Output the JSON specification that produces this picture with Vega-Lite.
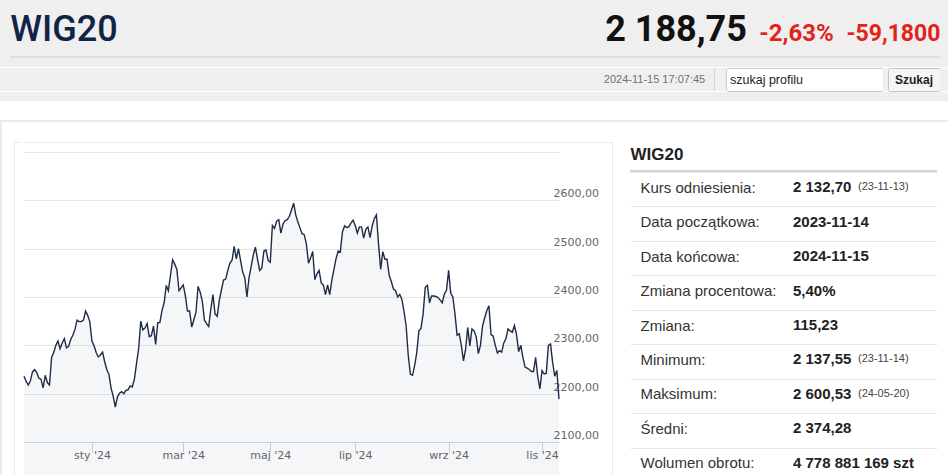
{
  "$schema": "https://vega.github.io/schema/vega-lite/v6.json",
  "background": "#ffffff",
  "padding": 0,
  "autosize": {"type": "pad"},
  "spacing": 0,
  "config": {"view": {"stroke": null}, "font": "Liberation Sans"},
  "datasets": {
    "blank": [{}],
    "quote": [{"name": "WIG20", "last": "2 188,75", "pct": "-2,63%", "chg": "-59,1800", "time": "2024-11-15 17:07:45", "query": "szukaj profilu", "button": "Szukaj"}],
    "stats": [
      {"label": "Kurs odniesienia:", "value": "2 132,70", "date": "(23-11-13)"},
      {"label": "Data początkowa:", "value": "2023-11-14", "date": ""},
      {"label": "Data końcowa:", "value": "2024-11-15", "date": ""},
      {"label": "Zmiana procentowa:", "value": "5,40%", "date": ""},
      {"label": "Zmiana:", "value": "115,23", "date": ""},
      {"label": "Minimum:", "value": "2 137,55", "date": "(23-11-14)"},
      {"label": "Maksimum:", "value": "2 600,53", "date": "(24-05-20)"},
      {"label": "Średni:", "value": "2 374,28", "date": ""},
      {"label": "Wolumen obrotu:", "value": "4 778 881 169 szt", "date": ""}
    ],
    "wig20": [
      {"d": "2023-11-14", "v": 2236}, {"d": "2023-11-15", "v": 2226}, {"d": "2023-11-16", "v": 2218}, {"d": "2023-11-17", "v": 2226},
      {"d": "2023-11-20", "v": 2245}, {"d": "2023-11-21", "v": 2250}, {"d": "2023-11-22", "v": 2244}, {"d": "2023-11-23", "v": 2232},
      {"d": "2023-11-24", "v": 2230}, {"d": "2023-11-27", "v": 2212}, {"d": "2023-11-28", "v": 2238}, {"d": "2023-11-29", "v": 2223},
      {"d": "2023-11-30", "v": 2218}, {"d": "2023-12-01", "v": 2275}, {"d": "2023-12-04", "v": 2285}, {"d": "2023-12-05", "v": 2300},
      {"d": "2023-12-06", "v": 2309}, {"d": "2023-12-07", "v": 2293}, {"d": "2023-12-08", "v": 2305}, {"d": "2023-12-11", "v": 2314},
      {"d": "2023-12-12", "v": 2295}, {"d": "2023-12-13", "v": 2298}, {"d": "2023-12-14", "v": 2312}, {"d": "2023-12-15", "v": 2321},
      {"d": "2023-12-18", "v": 2333}, {"d": "2023-12-19", "v": 2352}, {"d": "2023-12-20", "v": 2349}, {"d": "2023-12-21", "v": 2349},
      {"d": "2023-12-22", "v": 2352}, {"d": "2023-12-27", "v": 2371}, {"d": "2023-12-28", "v": 2362}, {"d": "2023-12-29", "v": 2349},
      {"d": "2024-01-02", "v": 2309}, {"d": "2024-01-03", "v": 2299}, {"d": "2024-01-04", "v": 2285}, {"d": "2024-01-05", "v": 2276},
      {"d": "2024-01-08", "v": 2280}, {"d": "2024-01-09", "v": 2286}, {"d": "2024-01-10", "v": 2266}, {"d": "2024-01-11", "v": 2250},
      {"d": "2024-01-12", "v": 2240}, {"d": "2024-01-15", "v": 2212}, {"d": "2024-01-16", "v": 2195}, {"d": "2024-01-17", "v": 2172},
      {"d": "2024-01-18", "v": 2193}, {"d": "2024-01-19", "v": 2201}, {"d": "2024-01-22", "v": 2204}, {"d": "2024-01-23", "v": 2200},
      {"d": "2024-01-24", "v": 2207}, {"d": "2024-01-25", "v": 2208}, {"d": "2024-01-26", "v": 2216}, {"d": "2024-01-29", "v": 2214},
      {"d": "2024-01-30", "v": 2230}, {"d": "2024-01-31", "v": 2262}, {"d": "2024-02-01", "v": 2293}, {"d": "2024-02-02", "v": 2350},
      {"d": "2024-02-05", "v": 2332}, {"d": "2024-02-06", "v": 2336}, {"d": "2024-02-07", "v": 2345}, {"d": "2024-02-08", "v": 2318},
      {"d": "2024-02-09", "v": 2320}, {"d": "2024-02-12", "v": 2340}, {"d": "2024-02-13", "v": 2302}, {"d": "2024-02-14", "v": 2347},
      {"d": "2024-02-15", "v": 2347}, {"d": "2024-02-16", "v": 2372}, {"d": "2024-02-19", "v": 2388}, {"d": "2024-02-20", "v": 2424},
      {"d": "2024-02-21", "v": 2413}, {"d": "2024-02-22", "v": 2445}, {"d": "2024-02-23", "v": 2477}, {"d": "2024-02-26", "v": 2468},
      {"d": "2024-02-27", "v": 2457}, {"d": "2024-02-28", "v": 2413}, {"d": "2024-02-29", "v": 2419}, {"d": "2024-03-01", "v": 2425},
      {"d": "2024-03-04", "v": 2403}, {"d": "2024-03-05", "v": 2371}, {"d": "2024-03-06", "v": 2371}, {"d": "2024-03-07", "v": 2338},
      {"d": "2024-03-08", "v": 2353}, {"d": "2024-03-11", "v": 2368}, {"d": "2024-03-12", "v": 2422}, {"d": "2024-03-13", "v": 2410},
      {"d": "2024-03-14", "v": 2391}, {"d": "2024-03-15", "v": 2352}, {"d": "2024-03-18", "v": 2345}, {"d": "2024-03-19", "v": 2339},
      {"d": "2024-03-20", "v": 2375}, {"d": "2024-03-21", "v": 2405}, {"d": "2024-03-22", "v": 2365}, {"d": "2024-03-25", "v": 2360},
      {"d": "2024-03-26", "v": 2393}, {"d": "2024-03-27", "v": 2415}, {"d": "2024-03-28", "v": 2435}, {"d": "2024-04-02", "v": 2437},
      {"d": "2024-04-03", "v": 2455}, {"d": "2024-04-04", "v": 2470}, {"d": "2024-04-05", "v": 2476}, {"d": "2024-04-08", "v": 2505},
      {"d": "2024-04-09", "v": 2479}, {"d": "2024-04-10", "v": 2500}, {"d": "2024-04-11", "v": 2476}, {"d": "2024-04-12", "v": 2452},
      {"d": "2024-04-15", "v": 2440}, {"d": "2024-04-16", "v": 2400}, {"d": "2024-04-17", "v": 2440}, {"d": "2024-04-18", "v": 2463},
      {"d": "2024-04-19", "v": 2487}, {"d": "2024-04-22", "v": 2503}, {"d": "2024-04-23", "v": 2478}, {"d": "2024-04-24", "v": 2455},
      {"d": "2024-04-25", "v": 2460}, {"d": "2024-04-26", "v": 2495}, {"d": "2024-04-29", "v": 2497}, {"d": "2024-04-30", "v": 2476},
      {"d": "2024-05-02", "v": 2472}, {"d": "2024-05-06", "v": 2548}, {"d": "2024-05-07", "v": 2542}, {"d": "2024-05-08", "v": 2557},
      {"d": "2024-05-09", "v": 2560}, {"d": "2024-05-10", "v": 2532}, {"d": "2024-05-13", "v": 2551}, {"d": "2024-05-14", "v": 2558},
      {"d": "2024-05-15", "v": 2560}, {"d": "2024-05-16", "v": 2567}, {"d": "2024-05-17", "v": 2580}, {"d": "2024-05-20", "v": 2594},
      {"d": "2024-05-21", "v": 2570}, {"d": "2024-05-22", "v": 2555}, {"d": "2024-05-23", "v": 2543}, {"d": "2024-05-24", "v": 2531},
      {"d": "2024-05-27", "v": 2529}, {"d": "2024-05-28", "v": 2510}, {"d": "2024-05-29", "v": 2470}, {"d": "2024-05-31", "v": 2481},
      {"d": "2024-06-03", "v": 2494}, {"d": "2024-06-04", "v": 2436}, {"d": "2024-06-05", "v": 2448}, {"d": "2024-06-06", "v": 2455},
      {"d": "2024-06-07", "v": 2429}, {"d": "2024-06-10", "v": 2425}, {"d": "2024-06-11", "v": 2405}, {"d": "2024-06-12", "v": 2425},
      {"d": "2024-06-13", "v": 2405}, {"d": "2024-06-14", "v": 2435}, {"d": "2024-06-17", "v": 2457}, {"d": "2024-06-18", "v": 2480},
      {"d": "2024-06-19", "v": 2495}, {"d": "2024-06-20", "v": 2493}, {"d": "2024-06-21", "v": 2535}, {"d": "2024-06-24", "v": 2547},
      {"d": "2024-06-25", "v": 2544}, {"d": "2024-06-26", "v": 2545}, {"d": "2024-06-27", "v": 2553}, {"d": "2024-06-28", "v": 2559},
      {"d": "2024-07-01", "v": 2548}, {"d": "2024-07-02", "v": 2532}, {"d": "2024-07-03", "v": 2545}, {"d": "2024-07-04", "v": 2545},
      {"d": "2024-07-05", "v": 2522}, {"d": "2024-07-08", "v": 2540}, {"d": "2024-07-09", "v": 2545}, {"d": "2024-07-10", "v": 2523},
      {"d": "2024-07-11", "v": 2547}, {"d": "2024-07-12", "v": 2562}, {"d": "2024-07-15", "v": 2570}, {"d": "2024-07-16", "v": 2510},
      {"d": "2024-07-17", "v": 2457}, {"d": "2024-07-18", "v": 2494}, {"d": "2024-07-19", "v": 2478}, {"d": "2024-07-22", "v": 2478},
      {"d": "2024-07-23", "v": 2445}, {"d": "2024-07-24", "v": 2432}, {"d": "2024-07-25", "v": 2417}, {"d": "2024-07-26", "v": 2413},
      {"d": "2024-07-29", "v": 2400}, {"d": "2024-07-30", "v": 2405}, {"d": "2024-07-31", "v": 2395}, {"d": "2024-08-01", "v": 2370},
      {"d": "2024-08-02", "v": 2340}, {"d": "2024-08-05", "v": 2279}, {"d": "2024-08-06", "v": 2240}, {"d": "2024-08-07", "v": 2238},
      {"d": "2024-08-08", "v": 2258}, {"d": "2024-08-09", "v": 2285}, {"d": "2024-08-12", "v": 2330}, {"d": "2024-08-13", "v": 2335},
      {"d": "2024-08-14", "v": 2365}, {"d": "2024-08-16", "v": 2420}, {"d": "2024-08-19", "v": 2424}, {"d": "2024-08-20", "v": 2388},
      {"d": "2024-08-21", "v": 2402}, {"d": "2024-08-22", "v": 2402}, {"d": "2024-08-23", "v": 2401}, {"d": "2024-08-26", "v": 2399},
      {"d": "2024-08-27", "v": 2394}, {"d": "2024-08-28", "v": 2388}, {"d": "2024-08-29", "v": 2406}, {"d": "2024-08-30", "v": 2414},
      {"d": "2024-09-02", "v": 2455}, {"d": "2024-09-03", "v": 2408}, {"d": "2024-09-04", "v": 2400}, {"d": "2024-09-05", "v": 2365},
      {"d": "2024-09-06", "v": 2321}, {"d": "2024-09-09", "v": 2324}, {"d": "2024-09-10", "v": 2300}, {"d": "2024-09-11", "v": 2268},
      {"d": "2024-09-12", "v": 2292}, {"d": "2024-09-13", "v": 2337}, {"d": "2024-09-16", "v": 2299}, {"d": "2024-09-17", "v": 2334},
      {"d": "2024-09-18", "v": 2330}, {"d": "2024-09-19", "v": 2318}, {"d": "2024-09-20", "v": 2283}, {"d": "2024-09-23", "v": 2300},
      {"d": "2024-09-24", "v": 2340}, {"d": "2024-09-25", "v": 2357}, {"d": "2024-09-26", "v": 2372}, {"d": "2024-09-27", "v": 2382},
      {"d": "2024-09-30", "v": 2322}, {"d": "2024-10-01", "v": 2319}, {"d": "2024-10-02", "v": 2300}, {"d": "2024-10-03", "v": 2284},
      {"d": "2024-10-04", "v": 2289}, {"d": "2024-10-07", "v": 2286}, {"d": "2024-10-08", "v": 2305}, {"d": "2024-10-09", "v": 2314},
      {"d": "2024-10-10", "v": 2334}, {"d": "2024-10-11", "v": 2330}, {"d": "2024-10-14", "v": 2327}, {"d": "2024-10-15", "v": 2341},
      {"d": "2024-10-16", "v": 2322}, {"d": "2024-10-17", "v": 2287}, {"d": "2024-10-18", "v": 2300}, {"d": "2024-10-21", "v": 2275},
      {"d": "2024-10-22", "v": 2255}, {"d": "2024-10-23", "v": 2253}, {"d": "2024-10-24", "v": 2250}, {"d": "2024-10-25", "v": 2246},
      {"d": "2024-10-28", "v": 2246}, {"d": "2024-10-29", "v": 2275}, {"d": "2024-10-30", "v": 2235}, {"d": "2024-10-31", "v": 2210},
      {"d": "2024-11-04", "v": 2248}, {"d": "2024-11-05", "v": 2241}, {"d": "2024-11-06", "v": 2242}, {"d": "2024-11-07", "v": 2300},
      {"d": "2024-11-08", "v": 2303}, {"d": "2024-11-12", "v": 2265}, {"d": "2024-11-13", "v": 2236}, {"d": "2024-11-14", "v": 2247.93},
      {"d": "2024-11-15", "v": 2188.75}
    ]
  },
  "vconcat": [
    {
      "hconcat": [
        {"data": {"name": "quote"}, "width": 128, "height": 56, "view": {"fill": "#efefef"},
         "mark": {"type": "text", "font": "Roboto", "fontSize": 36, "fontWeight": 500, "color": "#0f2543", "dy": 2},
         "encoding": {"text": {"field": "name"}}},
        {"data": {"name": "blank"}, "width": 478, "height": 56, "mark": {"type": "rect", "color": "#efefef"}},
        {"data": {"name": "quote"}, "width": 140, "height": 56, "view": {"fill": "#efefef"},
         "mark": {"type": "text", "font": "Roboto", "fontSize": 36, "fontWeight": "bold", "color": "#111111", "dy": 2},
         "encoding": {"text": {"field": "last"}}},
        {"data": {"name": "quote"}, "width": 101, "height": 56, "view": {"fill": "#efefef"},
         "mark": {"type": "text", "font": "Roboto", "fontSize": 24, "fontWeight": "bold", "color": "#e2231a", "dy": 6},
         "encoding": {"text": {"field": "pct"}}},
        {"data": {"name": "quote"}, "width": 93, "height": 56, "view": {"fill": "#efefef"},
         "mark": {"type": "text", "font": "Roboto", "fontSize": 23, "fontWeight": "bold", "color": "#e2231a", "dy": 6},
         "encoding": {"text": {"field": "chg"}}},
        {"data": {"name": "blank"}, "width": 8, "height": 56, "mark": {"type": "rect", "color": "#efefef"}}
      ],
      "spacing": 0, "bounds": "flush"
    },
    {
      "hconcat": [
        {"data": {"name": "blank"}, "width": 10, "height": 2, "mark": {"type": "rect", "color": "#efefef"}},
        {"data": {"name": "blank"}, "width": 930, "height": 2, "mark": {"type": "rect", "color": "#dedede"}},
        {"data": {"name": "blank"}, "width": 8, "height": 2, "mark": {"type": "rect", "color": "#efefef"}}
      ],
      "spacing": 0, "bounds": "flush"
    },
    {"data": {"name": "blank"}, "width": 948, "height": 9, "mark": {"type": "rect", "color": "#efefef"}},
    {
      "hconcat": [
        {"data": {"name": "blank"}, "width": 600, "height": 23, "mark": {"type": "rect", "color": "#efefef"}},
        {"data": {"name": "quote"}, "width": 109, "height": 23, "view": {"fill": "#efefef"},
         "mark": {"type": "text", "font": "Liberation Sans", "fontSize": 11, "color": "#707070"},
         "encoding": {"text": {"field": "time"}}},
        {"data": {"name": "blank"}, "width": 5, "height": 23, "mark": {"type": "rect", "color": "#efefef"}},
        {"data": {"name": "blank"}, "width": 1, "height": 23, "mark": {"type": "rect", "color": "#d6d6d6"}},
        {"data": {"name": "blank"}, "width": 11, "height": 23, "mark": {"type": "rect", "color": "#efefef"}},
        {"data": {"name": "quote"}, "width": 157, "height": 23, "view": {"fill": "#ffffff", "stroke": "#c8c8c8", "cornerRadius": 2},
         "mark": {"type": "text", "align": "left", "dx": -74.5, "font": "Liberation Sans", "fontSize": 12.5, "color": "#222222"},
         "encoding": {"text": {"field": "query"}}},
        {"data": {"name": "blank"}, "width": 5, "height": 23, "mark": {"type": "rect", "color": "#efefef"}},
        {"data": {"name": "quote"}, "width": 52, "height": 23, "view": {"fill": "#f5f5f5", "stroke": "#c4c4c4", "cornerRadius": 2},
         "mark": {"type": "text", "font": "Liberation Sans", "fontSize": 12, "fontWeight": "bold", "color": "#222222"},
         "encoding": {"text": {"field": "button"}}},
        {"data": {"name": "blank"}, "width": 8, "height": 23, "mark": {"type": "rect", "color": "#efefef"}}
      ],
      "spacing": 0, "bounds": "flush"
    },
    {"data": {"name": "blank"}, "width": 948, "height": 9, "mark": {"type": "rect", "color": "#efefef"}},
    {"data": {"name": "blank"}, "width": 948, "height": 19, "mark": {"type": "rect", "opacity": 0}},
    {"data": {"name": "blank"}, "width": 948, "height": 2, "mark": {"type": "rect", "color": "#ebebeb"}},
    {
      "hconcat": [
        {"data": {"name": "blank"}, "width": 2, "height": 354, "mark": {"type": "rect", "color": "#ebebeb"}},
        {"data": {"name": "blank"}, "width": 12, "height": 354, "mark": {"type": "rect", "opacity": 0}},
        {
          "vconcat": [
            {"data": {"name": "blank"}, "width": 1, "height": 20, "mark": {"type": "rect", "opacity": 0}},
            {"data": {"name": "blank"}, "width": 1, "height": 334, "mark": {"type": "rect", "color": "#ebebeb"}}
          ],
          "spacing": 0, "bounds": "flush"
        },
        {
          "vconcat": [
            {"data": {"name": "blank"}, "width": 6, "height": 20, "mark": {"type": "rect", "opacity": 0}},
            {"data": {"name": "blank"}, "width": 6, "height": 1, "mark": {"type": "rect", "color": "#ebebeb"}}
          ],
          "spacing": 0, "bounds": "flush"
        },
        {
          "vconcat": [
            {"data": {"name": "blank"}, "width": 576, "height": 20, "mark": {"type": "rect", "opacity": 0}},
            {"data": {"name": "blank"}, "width": 576, "height": 1, "mark": {"type": "rect", "color": "#ebebeb"}},
            {"data": {"name": "blank"}, "width": 576, "height": 9, "mark": {"type": "rect", "opacity": 0}},
            {
              "data": {"name": "wig20"},
              "width": 535,
              "height": 290,
              "encoding": {
                "x": {
                  "field": "d", "type": "ordinal",
                  "scale": {"type": "point", "padding": 0},
                  "axis": {
                    "title": null, "grid": false, "labelAngle": 0,
                    "values": ["2024-01-02", "2024-03-01", "2024-05-02", "2024-07-01", "2024-09-02", "2024-11-04"],
                    "labelExpr": "['sty','lut','mar','kwi','maj','cze','lip','sie','wrz','paź','lis','gru'][toNumber(substring(datum.value, 5, 7)) - 1] + \" '24\"",
                    "domainColor": "#ccd6eb", "tickColor": "#ccd6eb", "tickSize": 10,
                    "labelPadding": -3, "labelFont": "DejaVu Sans", "labelFontSize": 11, "labelColor": "#666666"
                  }
                },
                "y": {
                  "field": "v", "type": "quantitative",
                  "scale": {"domain": [2100, 2700], "zero": false, "nice": false},
                  "axis": {
                    "title": null, "orient": "right",
                    "values": [2100, 2200, 2300, 2400, 2500, 2600, 2700],
                    "grid": true, "gridColor": "#e6e6e6", "domain": false, "ticks": false, "tickSize": 0,
                    "labelAlign": "left", "labelBaseline": "alphabetic", "labelPadding": -6, "labelOffset": -3.5,
                    "labelExpr": "datum.value >= 2700 ? '' : replace(format(datum.value, '.2f'), '.', ',')",
                    "labelFont": "DejaVu Sans", "labelFontSize": 11, "labelColor": "#666666"
                  }
                }
              },
              "layer": [
                {"mark": {"type": "area", "color": "#34496e", "opacity": 0.05}},
                {"mark": {"type": "line", "color": "#1e2c47", "strokeWidth": 1.4}}
              ]
            },
            {"data": {"name": "blank"}, "width": 576, "height": 34, "mark": {"type": "rect", "opacity": 0}}
          ],
          "spacing": 0, "bounds": "flush"
        },
        {
          "vconcat": [
            {"data": {"name": "blank"}, "width": 12, "height": 20, "mark": {"type": "rect", "opacity": 0}},
            {"data": {"name": "blank"}, "width": 12, "height": 1, "mark": {"type": "rect", "color": "#ebebeb"}}
          ],
          "spacing": 0, "bounds": "flush"
        },
        {
          "vconcat": [
            {"data": {"name": "blank"}, "width": 1, "height": 20, "mark": {"type": "rect", "opacity": 0}},
            {"data": {"name": "blank"}, "width": 1, "height": 334, "mark": {"type": "rect", "color": "#ebebeb"}}
          ],
          "spacing": 0, "bounds": "flush"
        },
        {"data": {"name": "blank"}, "width": 17, "height": 354, "mark": {"type": "rect", "opacity": 0}},
        {
          "vconcat": [
            {"data": {"name": "blank"}, "width": 307, "height": 20, "mark": {"type": "rect", "opacity": 0}},
            {"data": {"name": "quote"}, "width": 54, "height": 28,
             "mark": {"type": "text", "font": "Liberation Sans", "fontSize": 17, "fontWeight": "bold", "color": "#222222", "dy": -1},
             "encoding": {"text": {"field": "name"}}},
            {"data": {"name": "blank"}, "width": 307, "height": 2, "mark": {"type": "rect", "color": "#d4d4d4"}},
            {
              "data": {"name": "stats"},
              "width": 307,
              "height": 310,
              "encoding": {
                "y": {
                  "field": "label", "type": "nominal", "sort": null,
                  "scale": {"paddingInner": 0, "paddingOuter": 0},
                  "axis": {
                    "title": null, "orient": "left", "domain": false, "ticks": false, "tickSize": 0,
                    "grid": true, "tickBand": "extent", "gridColor": "#e8e8e8",
                    "labelAlign": "left", "labelBaseline": "middle", "labelPadding": -10, "labelOffset": -2,
                    "labelFont": "Liberation Sans", "labelFontSize": 15, "labelColor": "#333333", "labelLimit": 300
                  }
                }
              },
              "layer": [
                {"mark": {"type": "text", "align": "left", "dx": 9.5, "dy": -2, "font": "Liberation Sans", "fontSize": 15, "fontWeight": "bold", "color": "#222222"},
                 "encoding": {"text": {"field": "value"}}},
                {"mark": {"type": "text", "align": "left", "dx": 74.5, "dy": -2, "font": "Liberation Sans", "fontSize": 11, "color": "#444444"},
                 "encoding": {"text": {"field": "date"}}}
              ]
            }
          ],
          "spacing": 0, "bounds": "flush"
        },
        {"data": {"name": "blank"}, "width": 11, "height": 354, "mark": {"type": "rect", "opacity": 0}}
      ],
      "spacing": 0
    }
  ]
}
